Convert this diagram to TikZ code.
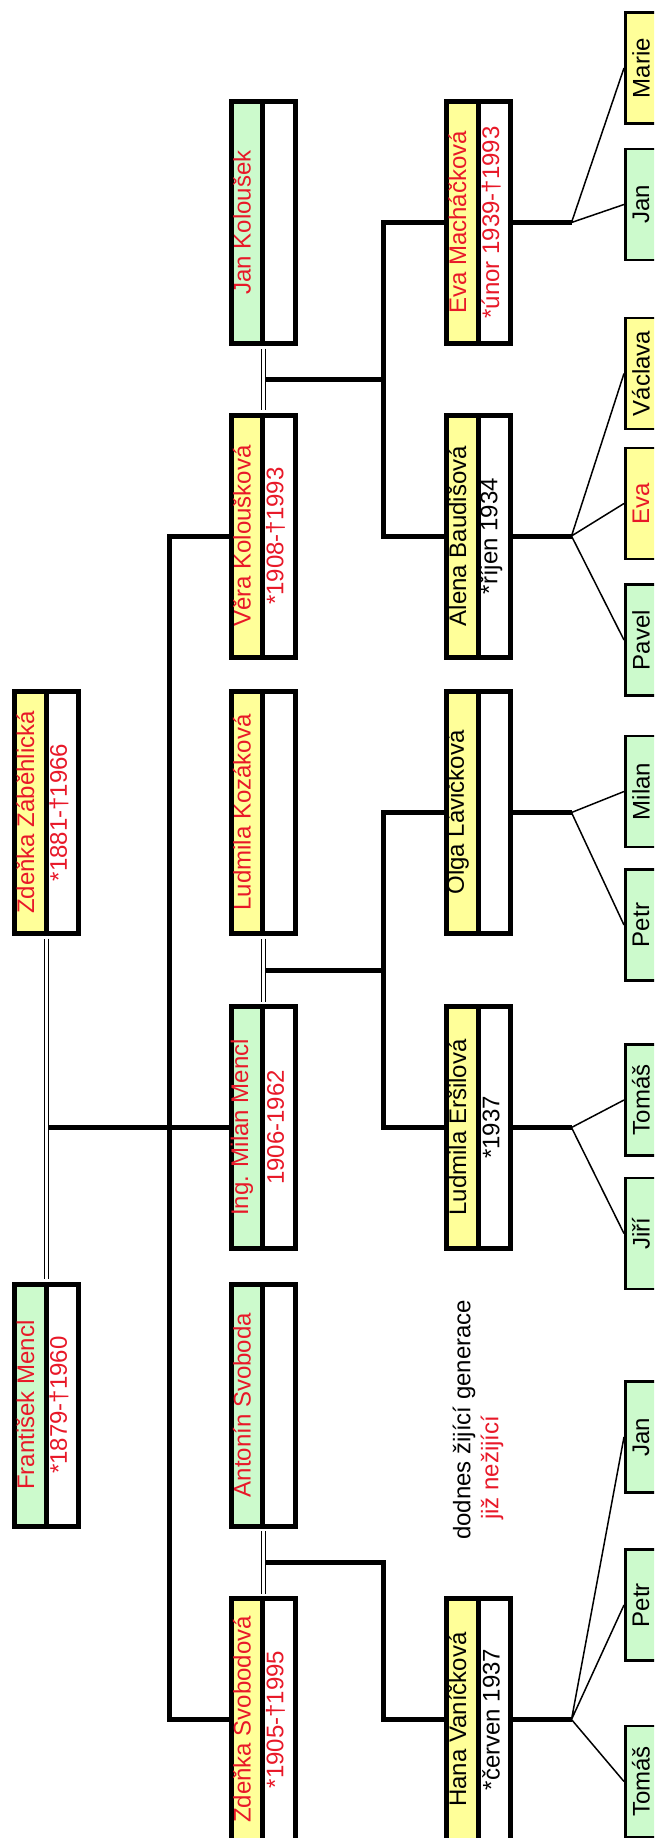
\documentclass[tikz,border=0pt]{standalone}
\usepackage{fontspec}
\setmainfont{Liberation Sans}
\usepackage{graphicx}
\usetikzlibrary{calc}
\definecolor{zluta}{RGB}{255,255,153}
\definecolor{zelena}{RGB}{204,250,204}
\definecolor{cervena}{RGB}{232,24,40}
\tikzset{
  osoba/.style={draw, line width=5pt, fill=white, minimum width=64pt, minimum height=242pt, inner sep=0pt,
    path picture={\fill[#1] (path picture bounding box.south west) rectangle ([xshift=31.5pt]path picture bounding box.north west);
      \draw[line width=5pt] ([xshift=31.5pt]path picture bounding box.south west) -- ([xshift=31.5pt]path picture bounding box.north west);}},
  dite/.style={draw, line width=2.5pt, fill=#1, minimum width=31.5pt, minimum height=111pt, inner sep=0pt,
    font=\fontsize{24}{28}\selectfont},
  popis/.style={rotate=90, inner sep=0pt, font=\fontsize{24}{28}\selectfont},
  rod/.style={line width=5pt},
  manzel/.style={double, line width=1pt, double distance=3pt, shorten <=2.5pt, shorten >=2.5pt},
  vetev/.style={line width=1.5pt}
}
\begin{document}
\begin{tikzpicture}[x=1pt, y=-1pt]
                \useasboundingbox (0,0) rectangle (654,1838);
                \clip (0,0) rectangle (654,1838);
                % generace 0
                \node[osoba=zluta] (zdenkaz) at (46.5,812.5) {};
                \node[popis, text=cervena] (zdenkaz-j) at ([xshift=13.5pt]zdenkaz.west) {Zdeňka Záběhlická};
                \node[popis, text=cervena] (zdenkaz-d) at ([xshift=47pt]zdenkaz.west) {*1881-†1966};
                \node[osoba=zelena] (frantisek) at (46.5,1405) {};
                \node[popis, text=cervena] (frantisek-j) at ([xshift=13.5pt]frantisek.west) {František Mencl};
                \node[popis, text=cervena] (frantisek-d) at ([xshift=47pt]frantisek.west) {*1879-†1960};
                % generace 1
                \node[osoba=zelena] (jank) at (263,222.5) {};
                \node[popis, text=cervena] (jank-j) at ([xshift=13.5pt]jank.west) {Jan Koloušek};
                \node[osoba=zluta] (vera) at (263,536) {};
                \node[popis, text=cervena] (vera-j) at ([xshift=13.5pt]vera.west) {Věra Koloušková};
                \node[popis, text=cervena] (vera-d) at ([xshift=47pt]vera.west) {*1908-†1993};
                \node[osoba=zluta] (ludmilak) at (263,812.5) {};
                \node[popis, text=cervena] (ludmilak-j) at ([xshift=13.5pt]ludmilak.west) {Ludmila Kozáková};
                \node[osoba=zelena] (milan) at (263,1127.5) {};
                \node[popis, text=cervena] (milan-j) at ([xshift=13.5pt]milan.west) {Ing. Milan Mencl};
                \node[popis, text=cervena] (milan-d) at ([xshift=47pt]milan.west) {1906-1962};
                \node[osoba=zelena] (antonin) at (263,1405) {};
                \node[popis, text=cervena] (antonin-j) at ([xshift=13.5pt]antonin.west) {Antonín Svoboda};
                \node[osoba=zluta] (zdenkas) at (263,1719.5) {};
                \node[popis, text=cervena] (zdenkas-j) at ([xshift=13.5pt]zdenkas.west) {Zdeňka Svobodová};
                \node[popis, text=cervena] (zdenkas-d) at ([xshift=47pt]zdenkas.west) {*1905-†1995};
                % generace 2
                \node[osoba=zluta] (evam) at (478.5,222.5) {};
                \node[popis, text=cervena] (evam-j) at ([xshift=13.5pt]evam.west) {Eva Macháčková};
                \node[popis, text=cervena] (evam-d) at ([xshift=47pt]evam.west) {*únor 1939-†1993};
                \node[osoba=zluta] (alena) at (478.5,536) {};
                \node[popis] (alena-j) at ([xshift=13.5pt]alena.west) {Alena Baudišová};
                \node[popis] (alena-d) at ([xshift=47pt]alena.west) {*říjen 1934};
                \node[osoba=zluta] (olga) at (478.5,812.5) {};
                \node[popis] (olga-j) at ([xshift=13.5pt]olga.west) {Olga Lávičková};
                \node[osoba=zluta] (ludmilae) at (478.5,1127.5) {};
                \node[popis] (ludmilae-j) at ([xshift=13.5pt]ludmilae.west) {Ludmila Eršilová};
                \node[popis] (ludmilae-d) at ([xshift=47pt]ludmilae.west) {*1937};
                \node[osoba=zluta] (hana) at (478.5,1719.5) {};
                \node[popis] (hana-j) at ([xshift=13.5pt]hana.west) {Hana Vaníčková};
                \node[popis] (hana-d) at ([xshift=47pt]hana.west) {*červen 1937};
                % legenda
                \node[popis, anchor=west] (zijici) at (464,1540) {dodnes žijící generace};
                \node[popis, anchor=west, text=cervena] (nezijici) at (492,1520) {již nežijící};
                % generace 3
                \node[dite=zluta] (marie) at (641,68) {\rotatebox{90}{Marie}};
                \node[dite=zelena] (jan1) at (641,204.5) {\rotatebox{90}{Jan}};
                \node[dite=zluta] (vaclava) at (641,373.5) {\rotatebox{90}{Václava}};
                \node[dite=zluta, text=cervena] (eva) at (641,503.5) {\rotatebox{90}{Eva}};
                \node[dite=zelena] (pavel) at (641,640) {\rotatebox{90}{Pavel}};
                \node[dite=zelena] (milan2) at (641,791.5) {\rotatebox{90}{Milan}};
                \node[dite=zelena] (petr1) at (641,925) {\rotatebox{90}{Petr}};
                \node[dite=zelena] (tomas1) at (641,1100) {\rotatebox{90}{Tomáš}};
                \node[dite=zelena] (jiri) at (641,1233.5) {\rotatebox{90}{Jiří}};
                \node[dite=zelena] (jan2) at (641,1437) {\rotatebox{90}{Jan}};
                \node[dite=zelena] (petr2) at (641,1605) {\rotatebox{90}{Petr}};
                \node[dite=zelena] (tomas2) at (641,1781.5) {\rotatebox{90}{Tomáš}};
                % manzele
                \draw[manzel] (zdenkaz.south) -- (frantisek.north);
                \draw[manzel] (jank.south) -- (vera.north);
                \draw[manzel] (ludmilak.south) -- (milan.north);
                \draw[manzel] (antonin.south) -- (zdenkas.north);
                % deti generace 0
                \coordinate (v0) at (169,0);
                \draw[rod] (vera.west) -- (vera.west -| v0) -- (zdenkas.west -| v0) -- (zdenkas.west);
                \draw[rod, shorten <=2pt] (zdenkaz.south |- milan.west) -- (milan.west);
                % deti generace 1
                \coordinate (v1) at (383,0);
                \coordinate (p1) at ($(jank.south)!0.5!(vera.north)$);
                \coordinate (p2) at ($(ludmilak.south)!0.5!(milan.north)$);
                \coordinate (p3) at ($(antonin.south)!0.5!(zdenkas.north)$);
                \draw[rod, shorten <=2pt] (p1) -- (p1 -| v1);
                \draw[rod] (evam.west) -- (evam.west -| v1) -- (alena.west -| v1) -- (alena.west);
                \draw[rod, shorten <=2pt] (p2) -- (p2 -| v1);
                \draw[rod] (olga.west) -- (olga.west -| v1) -- (ludmilae.west -| v1) -- (ludmilae.west);
                \draw[rod, shorten <=2pt] (p3) -- (p3 -| v1) -- (hana.west -| v1) -- (hana.west);
                % deti generace 2
                \coordinate (f1) at ([xshift=58.5pt]evam.east);
                \coordinate (f2) at ([xshift=58.5pt]alena.east);
                \coordinate (f3) at ([xshift=58.5pt]olga.east);
                \coordinate (f4) at ([xshift=58.5pt]ludmilae.east);
                \coordinate (f5) at ([xshift=58.5pt]hana.east);
                \draw[rod] (evam.east) -- (f1);
                \draw[rod] (alena.east) -- (f2);
                \draw[rod] (olga.east) -- (f3);
                \draw[rod] (ludmilae.east) -- (f4);
                \draw[rod] (hana.east) -- (f5);
                \draw[vetev] (f1) -- (marie.west) (f1) -- (jan1.west);
                \draw[vetev] (f2) -- (vaclava.west) (f2) -- (eva.west) (f2) -- (pavel.west);
                \draw[vetev] (f3) -- (milan2.west) (f3) -- (petr1.west);
                \draw[vetev] (f4) -- (tomas1.west) (f4) -- (jiri.west);
                \draw[vetev] (f5) -- (jan2.west) (f5) -- (petr2.west) (f5) -- (tomas2.west);
            \end{tikzpicture}
\end{document}
